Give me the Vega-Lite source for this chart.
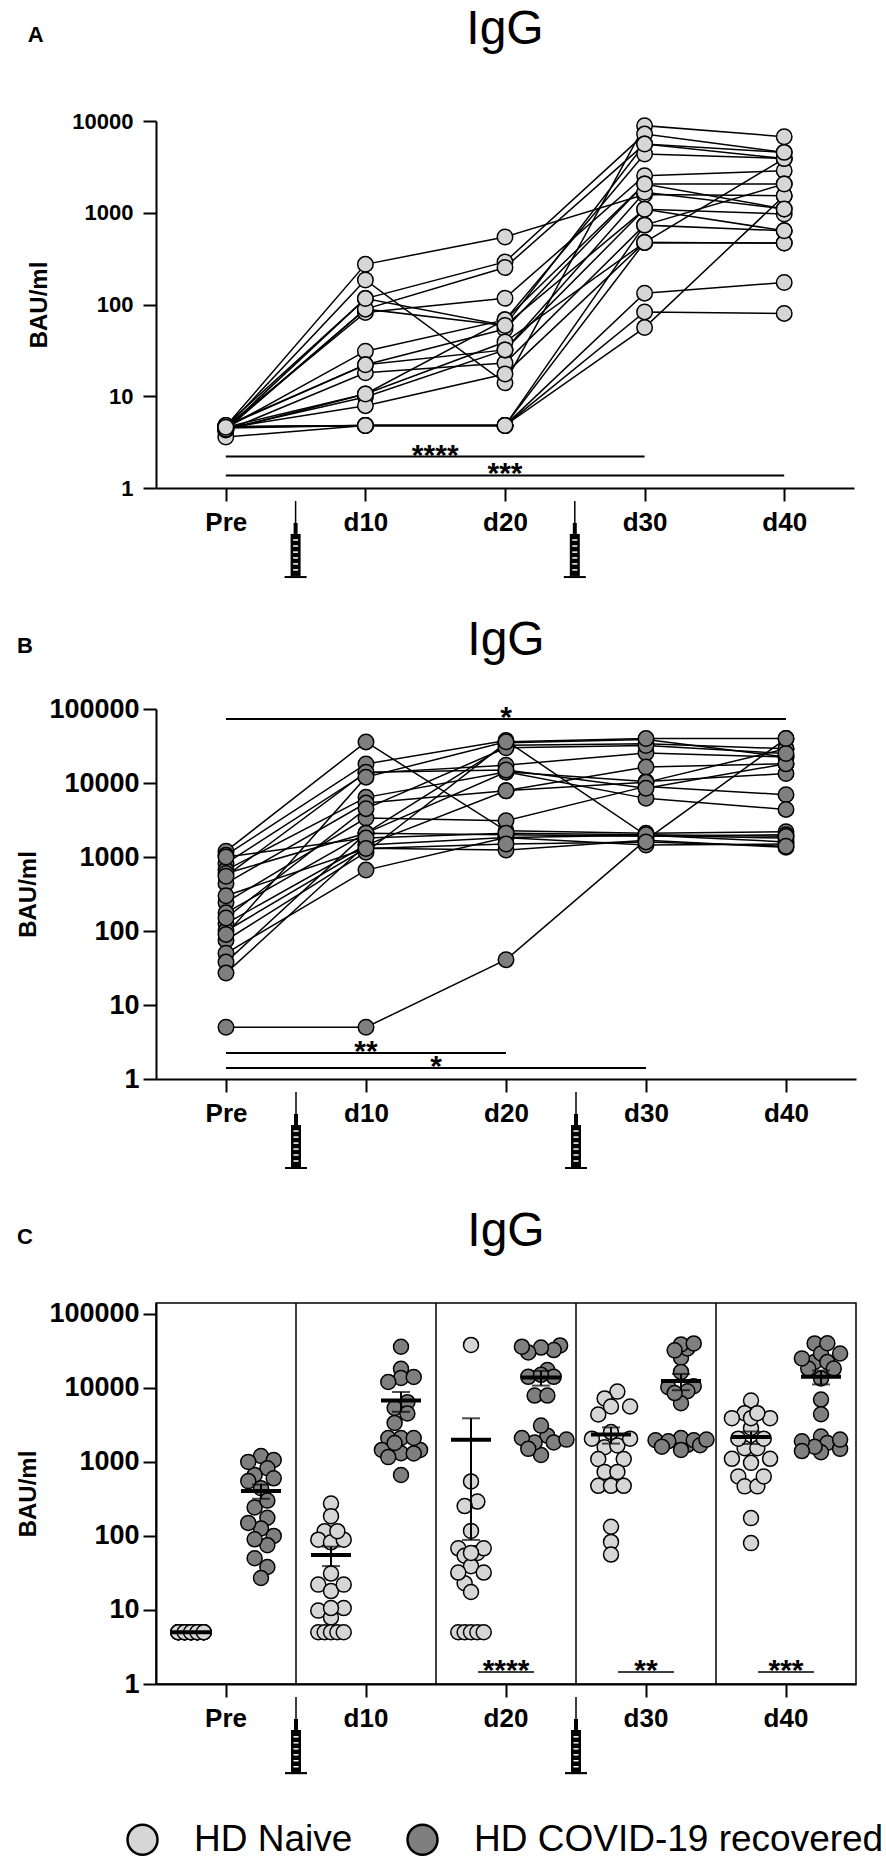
{
  "$schema": "https://vega.github.io/schema/vega-lite/v6.json",
  "background": "white",
  "padding": {"left": 16, "top": 6, "right": 5, "bottom": 5},
  "spacing": 35,
  "config": {
    "view": {"stroke": null},
    "font": "Liberation Sans",
    "axis": {"grid": false, "domainColor": "black", "domainWidth": 2, "tickColor": "black", "tickWidth": 2, "tickSize": 13, "labelColor": "black", "labelFont": "Liberation Sans", "labelFontWeight": "bold", "labelFontSize": 26, "labelPadding": 4, "titleColor": "black", "titleFont": "Liberation Sans", "titleFontSize": 24, "titleFontWeight": "bold"},
    "axisX": {"labelPadding": 8, "labelAngle": 0},
    "axisY": {"labelFontSize": 27},
    "title": {"fontSize": 22, "fontWeight": "bold", "anchor": "start", "frame": "bounds", "color": "black", "font": "Liberation Sans", "baseline": "alphabetic", "offset": -41},
    "text": {"font": "Liberation Sans", "color": "black"}
  },
  "datasets": {
    "naive": [
      {"id":1,"t":0,"v":4.7},{"id":1,"t":1,"v":274},{"id":1,"t":2,"v":545},{"id":1,"t":3,"v":1580},{"id":1,"t":4,"v":1530},
      {"id":2,"t":0,"v":4.5},{"id":2,"t":1,"v":185},{"id":2,"t":2,"v":14},{"id":2,"t":3,"v":8900},{"id":2,"t":4,"v":6740},
      {"id":3,"t":0,"v":4.8},{"id":3,"t":1,"v":116},{"id":3,"t":2,"v":291},{"id":3,"t":3,"v":7200},{"id":3,"t":4,"v":4550},
      {"id":4,"t":0,"v":4.4},{"id":4,"t":1,"v":89},{"id":4,"t":2,"v":253},{"id":4,"t":3,"v":5600},{"id":4,"t":4,"v":3900},
      {"id":5,"t":0,"v":4.6},{"id":5,"t":1,"v":82},{"id":5,"t":2,"v":117},{"id":5,"t":3,"v":2530},{"id":5,"t":4,"v":2870},
      {"id":6,"t":0,"v":4.3},{"id":6,"t":1,"v":89},{"id":6,"t":2,"v":59},{"id":6,"t":3,"v":1090},{"id":6,"t":4,"v":970},
      {"id":7,"t":0,"v":4.5},{"id":7,"t":1,"v":31},{"id":7,"t":2,"v":68},{"id":7,"t":3,"v":4370},{"id":7,"t":4,"v":3900},
      {"id":8,"t":0,"v":4.7},{"id":8,"t":1,"v":22},{"id":8,"t":2,"v":54},{"id":8,"t":3,"v":2060},{"id":8,"t":4,"v":2060},
      {"id":9,"t":0,"v":4.2},{"id":9,"t":1,"v":18},{"id":9,"t":2,"v":23},{"id":9,"t":3,"v":733},{"id":9,"t":4,"v":637},
      {"id":10,"t":0,"v":4.6},{"id":10,"t":1,"v":10.6},{"id":10,"t":2,"v":39},{"id":10,"t":3,"v":475},{"id":10,"t":4,"v":467},
      {"id":11,"t":0,"v":4.4},{"id":11,"t":1,"v":9.8},{"id":11,"t":2,"v":32},{"id":11,"t":3,"v":1670},{"id":11,"t":4,"v":1100},
      {"id":12,"t":0,"v":4.5},{"id":12,"t":1,"v":7.9},{"id":12,"t":2,"v":17.5},{"id":12,"t":3,"v":475},{"id":12,"t":4,"v":3900},
      {"id":13,"t":0,"v":3.6},{"id":13,"t":1,"v":4.8},{"id":13,"t":2,"v":4.8},{"id":13,"t":3,"v":133},{"id":13,"t":4,"v":174},
      {"id":14,"t":0,"v":4.6},{"id":14,"t":1,"v":4.8},{"id":14,"t":2,"v":4.8},{"id":14,"t":3,"v":83},{"id":14,"t":4,"v":80},
      {"id":15,"t":0,"v":4.7},{"id":15,"t":1,"v":4.8},{"id":15,"t":2,"v":4.8},{"id":15,"t":3,"v":56},{"id":15,"t":4,"v":1530},
      {"id":16,"t":0,"v":4.5},{"id":16,"t":1,"v":4.8},{"id":16,"t":2,"v":4.8},{"id":16,"t":3,"v":475},{"id":16,"t":4,"v":467},
      {"id":17,"t":0,"v":4.3},{"id":17,"t":1,"v":10.6},{"id":17,"t":2,"v":68},{"id":17,"t":3,"v":2060},{"id":17,"t":4,"v":1100},
      {"id":18,"t":0,"v":4.8},{"id":18,"t":1,"v":22},{"id":18,"t":2,"v":32},{"id":18,"t":3,"v":1090},{"id":18,"t":4,"v":637},
      {"id":19,"t":0,"v":4.4},{"id":19,"t":1,"v":116},{"id":19,"t":2,"v":59},{"id":19,"t":3,"v":5600},{"id":19,"t":4,"v":4550},
      {"id":20,"t":0,"v":4.6},{"id":20,"t":1,"v":4.8},{"id":20,"t":2,"v":4.8},{"id":20,"t":3,"v":733},{"id":20,"t":4,"v":2060}
    ],
    "rec": [
      {"id":1,"t":0,"v":5},{"id":1,"t":1,"v":5},{"id":1,"t":2,"v":41},{"id":1,"t":3,"v":1700},{"id":1,"t":4,"v":39800},
      {"id":2,"t":0,"v":1200},{"id":2,"t":1,"v":35900},{"id":2,"t":2,"v":2260},{"id":2,"t":3,"v":2100},{"id":2,"t":4,"v":2200},
      {"id":3,"t":0,"v":1060},{"id":3,"t":1,"v":18100},{"id":3,"t":2,"v":37400},{"id":3,"t":3,"v":1960},{"id":3,"t":4,"v":1800},
      {"id":4,"t":0,"v":820},{"id":4,"t":1,"v":13600},{"id":4,"t":2,"v":17400},{"id":4,"t":3,"v":25500},{"id":4,"t":4,"v":22400},
      {"id":5,"t":0,"v":665},{"id":5,"t":1,"v":6400},{"id":5,"t":2,"v":14100},{"id":5,"t":3,"v":10500},{"id":5,"t":4,"v":13400},
      {"id":6,"t":0,"v":440},{"id":6,"t":1,"v":5350},{"id":6,"t":2,"v":7870},{"id":6,"t":3,"v":16400},{"id":6,"t":4,"v":18200},
      {"id":7,"t":0,"v":243},{"id":7,"t":1,"v":3360},{"id":7,"t":2,"v":3090},{"id":7,"t":3,"v":9000},{"id":7,"t":4,"v":6950},
      {"id":8,"t":0,"v":176},{"id":8,"t":1,"v":2100},{"id":8,"t":2,"v":32400},{"id":8,"t":3,"v":34000},{"id":8,"t":4,"v":29100},
      {"id":9,"t":0,"v":126},{"id":9,"t":1,"v":1450},{"id":9,"t":2,"v":1830},{"id":9,"t":3,"v":1450},{"id":9,"t":4,"v":1500},
      {"id":10,"t":0,"v":100},{"id":10,"t":1,"v":1310},{"id":10,"t":2,"v":1240},{"id":10,"t":3,"v":1680},{"id":10,"t":4,"v":1350},
      {"id":11,"t":0,"v":75},{"id":11,"t":1,"v":1160},{"id":11,"t":2,"v":35000},{"id":11,"t":3,"v":38600},{"id":11,"t":4,"v":22400},
      {"id":12,"t":0,"v":50},{"id":12,"t":1,"v":665},{"id":12,"t":2,"v":1830},{"id":12,"t":3,"v":1960},{"id":12,"t":4,"v":1600},
      {"id":13,"t":0,"v":38},{"id":13,"t":1,"v":2100},{"id":13,"t":2,"v":14100},{"id":13,"t":3,"v":6200},{"id":13,"t":4,"v":4400},
      {"id":14,"t":0,"v":27},{"id":14,"t":1,"v":1450},{"id":14,"t":2,"v":7870},{"id":14,"t":3,"v":10200},{"id":14,"t":4,"v":29100},
      {"id":15,"t":0,"v":600},{"id":15,"t":1,"v":2100},{"id":15,"t":2,"v":2000},{"id":15,"t":3,"v":1900},{"id":15,"t":4,"v":2000},
      {"id":16,"t":0,"v":550},{"id":16,"t":1,"v":14000},{"id":16,"t":2,"v":15000},{"id":16,"t":3,"v":8500},{"id":16,"t":4,"v":18200},
      {"id":17,"t":0,"v":1000},{"id":17,"t":1,"v":1800},{"id":17,"t":2,"v":2100},{"id":17,"t":3,"v":2000},{"id":17,"t":4,"v":1900},
      {"id":18,"t":0,"v":150},{"id":18,"t":1,"v":4500},{"id":18,"t":2,"v":30000},{"id":18,"t":3,"v":32100},{"id":18,"t":4,"v":25000},
      {"id":19,"t":0,"v":300},{"id":19,"t":1,"v":1300},{"id":19,"t":2,"v":1500},{"id":19,"t":3,"v":1600},{"id":19,"t":4,"v":1400},
      {"id":20,"t":0,"v":90},{"id":20,"t":1,"v":12000},{"id":20,"t":2,"v":36000},{"id":20,"t":3,"v":39800},{"id":20,"t":4,"v":40000}
    ],
    "cdots": [
      {"g":"N","t":0,"v":5,"k":"N-2"},{"g":"N","t":0,"v":5,"k":"N-1"},{"g":"N","t":0,"v":5,"k":"N0"},{"g":"N","t":0,"v":5,"k":"N1"},{"g":"N","t":0,"v":5,"k":"N2"},
      {"g":"N","t":0,"v":5,"k":"N-2"},{"g":"N","t":0,"v":5,"k":"N-1"},{"g":"N","t":0,"v":5,"k":"N0"},{"g":"N","t":0,"v":5,"k":"N1"},{"g":"N","t":0,"v":5,"k":"N2"},
      {"g":"N","t":0,"v":5,"k":"N-2"},{"g":"N","t":0,"v":5,"k":"N-1"},{"g":"N","t":0,"v":5,"k":"N0"},{"g":"N","t":0,"v":5,"k":"N1"},{"g":"N","t":0,"v":5,"k":"N2"},
      {"g":"N","t":0,"v":5,"k":"N-2"},{"g":"N","t":0,"v":5,"k":"N-1"},{"g":"N","t":0,"v":5,"k":"N0"},{"g":"N","t":0,"v":5,"k":"N1"},{"g":"N","t":0,"v":5,"k":"N2"},
      {"g":"N","t":1,"v":274,"k":"N0"},{"g":"N","t":1,"v":185,"k":"N0"},{"g":"N","t":1,"v":116,"k":"N-1"},{"g":"N","t":1,"v":89,"k":"N-2"},{"g":"N","t":1,"v":82,"k":"N0"},
      {"g":"N","t":1,"v":89,"k":"N2"},{"g":"N","t":1,"v":31,"k":"N0"},{"g":"N","t":1,"v":22,"k":"N-2"},{"g":"N","t":1,"v":18,"k":"N0"},{"g":"N","t":1,"v":10.6,"k":"N2"},
      {"g":"N","t":1,"v":9.8,"k":"N-2"},{"g":"N","t":1,"v":7.9,"k":"N0"},{"g":"N","t":1,"v":5,"k":"N-2"},{"g":"N","t":1,"v":5,"k":"N-1"},{"g":"N","t":1,"v":5,"k":"N0"},
      {"g":"N","t":1,"v":5,"k":"N1"},{"g":"N","t":1,"v":10.6,"k":"N0"},{"g":"N","t":1,"v":22,"k":"N2"},{"g":"N","t":1,"v":116,"k":"N1"},{"g":"N","t":1,"v":5,"k":"N2"},
      {"g":"N","t":2,"v":545,"k":"N0"},{"g":"N","t":2,"v":38000,"k":"N0"},{"g":"N","t":2,"v":291,"k":"N1"},{"g":"N","t":2,"v":253,"k":"N-1"},{"g":"N","t":2,"v":117,"k":"N0"},
      {"g":"N","t":2,"v":59,"k":"N1"},{"g":"N","t":2,"v":68,"k":"N-2"},{"g":"N","t":2,"v":54,"k":"N-1"},{"g":"N","t":2,"v":23,"k":"N-1"},{"g":"N","t":2,"v":39,"k":"N0"},
      {"g":"N","t":2,"v":32,"k":"N-2"},{"g":"N","t":2,"v":17.5,"k":"N0"},{"g":"N","t":2,"v":5,"k":"N-2"},{"g":"N","t":2,"v":5,"k":"N-1"},{"g":"N","t":2,"v":5,"k":"N0"},
      {"g":"N","t":2,"v":5,"k":"N1"},{"g":"N","t":2,"v":68,"k":"N2"},{"g":"N","t":2,"v":32,"k":"N2"},{"g":"N","t":2,"v":59,"k":"N0"},{"g":"N","t":2,"v":5,"k":"N2"},
      {"g":"N","t":3,"v":1580,"k":"N-1"},{"g":"N","t":3,"v":8900,"k":"N1"},{"g":"N","t":3,"v":7200,"k":"N-1"},{"g":"N","t":3,"v":5600,"k":"N0"},{"g":"N","t":3,"v":2530,"k":"N0"},
      {"g":"N","t":3,"v":1090,"k":"N-2"},{"g":"N","t":3,"v":4370,"k":"N-2"},{"g":"N","t":3,"v":2060,"k":"N-3"},{"g":"N","t":3,"v":733,"k":"N-1"},{"g":"N","t":3,"v":475,"k":"N-2"},
      {"g":"N","t":3,"v":1670,"k":"N1"},{"g":"N","t":3,"v":475,"k":"N0"},{"g":"N","t":3,"v":133,"k":"N0"},{"g":"N","t":3,"v":83,"k":"N0"},{"g":"N","t":3,"v":56,"k":"N0"},
      {"g":"N","t":3,"v":475,"k":"N2"},{"g":"N","t":3,"v":2060,"k":"N3"},{"g":"N","t":3,"v":1090,"k":"N2"},{"g":"N","t":3,"v":5600,"k":"N3"},{"g":"N","t":3,"v":733,"k":"N1"},
      {"g":"N","t":4,"v":1530,"k":"N-1"},{"g":"N","t":4,"v":6740,"k":"N0"},{"g":"N","t":4,"v":4550,"k":"N-1"},{"g":"N","t":4,"v":3900,"k":"N-3"},{"g":"N","t":4,"v":2870,"k":"N0"},
      {"g":"N","t":4,"v":970,"k":"N0"},{"g":"N","t":4,"v":3900,"k":"N0"},{"g":"N","t":4,"v":2060,"k":"N-2"},{"g":"N","t":4,"v":637,"k":"N-2"},{"g":"N","t":4,"v":467,"k":"N-1"},
      {"g":"N","t":4,"v":1100,"k":"N-3"},{"g":"N","t":4,"v":3900,"k":"N3"},{"g":"N","t":4,"v":174,"k":"N0"},{"g":"N","t":4,"v":80,"k":"N0"},{"g":"N","t":4,"v":1530,"k":"N1"},
      {"g":"N","t":4,"v":467,"k":"N1"},{"g":"N","t":4,"v":1100,"k":"N3"},{"g":"N","t":4,"v":637,"k":"N2"},{"g":"N","t":4,"v":4550,"k":"N1"},{"g":"N","t":4,"v":2060,"k":"N2"},
      {"g":"R","t":0,"v":1200,"k":"R0"},{"g":"R","t":0,"v":1060,"k":"R2"},{"g":"R","t":0,"v":820,"k":"R1"},{"g":"R","t":0,"v":665,"k":"R-1"},{"g":"R","t":0,"v":440,"k":"R0"},
      {"g":"R","t":0,"v":243,"k":"R-1"},{"g":"R","t":0,"v":176,"k":"R1"},{"g":"R","t":0,"v":126,"k":"R0"},{"g":"R","t":0,"v":100,"k":"R2"},{"g":"R","t":0,"v":75,"k":"R1"},
      {"g":"R","t":0,"v":50,"k":"R-1"},{"g":"R","t":0,"v":38,"k":"R1"},{"g":"R","t":0,"v":27,"k":"R0"},{"g":"R","t":0,"v":600,"k":"R2"},{"g":"R","t":0,"v":550,"k":"R-2"},
      {"g":"R","t":0,"v":1000,"k":"R-2"},{"g":"R","t":0,"v":150,"k":"R-2"},{"g":"R","t":0,"v":300,"k":"R1"},{"g":"R","t":0,"v":90,"k":"R-1"},
      {"g":"R","t":1,"v":35900,"k":"R0"},{"g":"R","t":1,"v":18100,"k":"R0"},{"g":"R","t":1,"v":13600,"k":"R0"},{"g":"R","t":1,"v":6400,"k":"R1"},{"g":"R","t":1,"v":5350,"k":"R-1"},
      {"g":"R","t":1,"v":3360,"k":"R-1"},{"g":"R","t":1,"v":2100,"k":"R-2"},{"g":"R","t":1,"v":1450,"k":"R-3"},{"g":"R","t":1,"v":1310,"k":"R0"},{"g":"R","t":1,"v":1160,"k":"R-2"},
      {"g":"R","t":1,"v":665,"k":"R0"},{"g":"R","t":1,"v":2100,"k":"R0"},{"g":"R","t":1,"v":1450,"k":"R3"},{"g":"R","t":1,"v":2100,"k":"R2"},{"g":"R","t":1,"v":14000,"k":"R2"},
      {"g":"R","t":1,"v":1800,"k":"R-1"},{"g":"R","t":1,"v":4500,"k":"R1"},{"g":"R","t":1,"v":1300,"k":"R2"},{"g":"R","t":1,"v":12000,"k":"R-2"},
      {"g":"R","t":2,"v":2260,"k":"R1"},{"g":"R","t":2,"v":37400,"k":"R3"},{"g":"R","t":2,"v":17400,"k":"R1"},{"g":"R","t":2,"v":14100,"k":"R-2"},{"g":"R","t":2,"v":7870,"k":"R-1"},
      {"g":"R","t":2,"v":3090,"k":"R0"},{"g":"R","t":2,"v":32400,"k":"R2"},{"g":"R","t":2,"v":1830,"k":"R2"},{"g":"R","t":2,"v":1240,"k":"R0"},{"g":"R","t":2,"v":35000,"k":"R0"},
      {"g":"R","t":2,"v":1830,"k":"R-1"},{"g":"R","t":2,"v":14100,"k":"R2"},{"g":"R","t":2,"v":7870,"k":"R1"},{"g":"R","t":2,"v":2000,"k":"R4"},{"g":"R","t":2,"v":15000,"k":"R0"},
      {"g":"R","t":2,"v":2100,"k":"R-3"},{"g":"R","t":2,"v":30000,"k":"R-2"},{"g":"R","t":2,"v":1500,"k":"R-2"},{"g":"R","t":2,"v":36000,"k":"R-3"},
      {"g":"R","t":3,"v":1700,"k":"R1"},{"g":"R","t":3,"v":2100,"k":"R0"},{"g":"R","t":3,"v":1960,"k":"R2"},{"g":"R","t":3,"v":25500,"k":"R0"},{"g":"R","t":3,"v":10500,"k":"R2"},
      {"g":"R","t":3,"v":16400,"k":"R0"},{"g":"R","t":3,"v":9000,"k":"R1"},{"g":"R","t":3,"v":34000,"k":"R1"},{"g":"R","t":3,"v":1450,"k":"R0"},{"g":"R","t":3,"v":1680,"k":"R3"},
      {"g":"R","t":3,"v":38600,"k":"R0"},{"g":"R","t":3,"v":1960,"k":"R-4"},{"g":"R","t":3,"v":6200,"k":"R0"},{"g":"R","t":3,"v":10200,"k":"R-2"},{"g":"R","t":3,"v":1900,"k":"R-2"},
      {"g":"R","t":3,"v":8500,"k":"R-1"},{"g":"R","t":3,"v":2000,"k":"R4"},{"g":"R","t":3,"v":32100,"k":"R-1"},{"g":"R","t":3,"v":1600,"k":"R-3"},{"g":"R","t":3,"v":39800,"k":"R2"},
      {"g":"R","t":4,"v":39800,"k":"R-1"},{"g":"R","t":4,"v":2200,"k":"R0"},{"g":"R","t":4,"v":1800,"k":"R1"},{"g":"R","t":4,"v":22400,"k":"R-1"},{"g":"R","t":4,"v":13400,"k":"R0"},
      {"g":"R","t":4,"v":18200,"k":"R-2"},{"g":"R","t":4,"v":6950,"k":"R0"},{"g":"R","t":4,"v":29100,"k":"R0"},{"g":"R","t":4,"v":1500,"k":"R3"},{"g":"R","t":4,"v":1350,"k":"R0"},
      {"g":"R","t":4,"v":22400,"k":"R1"},{"g":"R","t":4,"v":1600,"k":"R-1"},{"g":"R","t":4,"v":4400,"k":"R0"},{"g":"R","t":4,"v":29100,"k":"R3"},{"g":"R","t":4,"v":2000,"k":"R3"},
      {"g":"R","t":4,"v":18200,"k":"R2"},{"g":"R","t":4,"v":1900,"k":"R-3"},{"g":"R","t":4,"v":25000,"k":"R-3"},{"g":"R","t":4,"v":1400,"k":"R-3"},{"g":"R","t":4,"v":40000,"k":"R1"}
    ],
    "syrAB": [{"t":0.5},{"t":2.5}],
    "syrC": [{"t":1},{"t":3}],
    "dashA": [
      {"t":0.5,"y":0.271},{"t":0.5,"y":0.233},{"t":0.5,"y":0.2},{"t":0.5,"y":0.173},{"t":0.5,"y":0.149},{"t":0.5,"y":0.128},
      {"t":2.5,"y":0.271},{"t":2.5,"y":0.233},{"t":2.5,"y":0.2},{"t":2.5,"y":0.173},{"t":2.5,"y":0.149},{"t":2.5,"y":0.128}
    ],
    "dashB": [
      {"t":0.5,"y":0.198},{"t":0.5,"y":0.164},{"t":0.5,"y":0.136},{"t":0.5,"y":0.113},{"t":0.5,"y":0.094},{"t":0.5,"y":0.078},
      {"t":2.5,"y":0.198},{"t":2.5,"y":0.164},{"t":2.5,"y":0.136},{"t":2.5,"y":0.113},{"t":2.5,"y":0.094},{"t":2.5,"y":0.078}
    ],
    "dashC": [
      {"t":1,"y":0.198,"y2":0.189},{"t":1,"y":0.164,"y2":0.157},{"t":1,"y":0.136,"y2":0.130},{"t":1,"y":0.113,"y2":0.108},{"t":1,"y":0.094,"y2":0.090},{"t":1,"y":0.078,"y2":0.0745},
      {"t":3,"y":0.198,"y2":0.189},{"t":3,"y":0.164,"y2":0.157},{"t":3,"y":0.136,"y2":0.130},{"t":3,"y":0.113,"y2":0.108},{"t":3,"y":0.094,"y2":0.090},{"t":3,"y":0.078,"y2":0.0745}
    ]
  },
  "vconcat": [
    {
      "width": 698,
      "height": 367,
      "title": {"text": "A"},
      "layer": [
        {
          "data": {"name": "naive"},
          "mark": {"type": "line", "color": "black", "strokeWidth": 1.5},
          "encoding": {
            "x": {"field": "t", "type": "quantitative", "scale": {"domain": [-0.5, 4.5], "nice": false, "zero": false},
                  "axis": {"values": [0, 1, 2, 3, 4], "labelExpr": "['Pre','d10','d20','d30','d40'][datum.value]", "title": null}},
            "y": {"field": "v", "type": "quantitative", "scale": {"type": "log", "domain": [1, 10000], "nice": false},
                  "axis": {"values": [1, 10, 100, 1000, 10000], "format": "d", "title": "BAU/ml", "titlePadding": 20, "labelFontSize": 22, "labelPadding": 10}},
            "detail": {"field": "id", "type": "nominal"}
          }
        },
        {
          "data": {"name": "naive"},
          "mark": {"type": "circle", "size": 240, "fill": "#d6d6d6", "stroke": "black", "strokeWidth": 1.5, "opacity": 1},
          "encoding": {"x": {"field": "t", "type": "quantitative"}, "y": {"field": "v", "type": "quantitative"}}
        },
        {
          "data": {"values": [{"a": 0, "b": 3, "v": 2.2}, {"a": 0, "b": 4, "v": 1.37}]},
          "mark": {"type": "rule", "color": "black", "strokeWidth": 2},
          "encoding": {"x": {"field": "a", "type": "quantitative"}, "x2": {"field": "b"}, "y": {"field": "v", "type": "quantitative"}}
        },
        {
          "data": {"values": [{"m": 1.5, "v": 1.8, "s": "****"}, {"m": 2, "v": 1.12, "s": "***"}]},
          "mark": {"type": "text", "fontSize": 30, "fontWeight": "bold", "baseline": "alphabetic"},
          "encoding": {"x": {"field": "m", "type": "quantitative"}, "y": {"field": "v", "type": "quantitative"}, "text": {"field": "s"}}
        },
        {
          "data": {"values": [{"s": "IgG"}]},
          "mark": {"type": "text", "fontSize": 48, "baseline": "alphabetic"},
          "encoding": {"x": {"datum": 2}, "y": {"datum": 69000}, "text": {"field": "s"}}
        },
        {
          "data": {"name": "syrAB"},
          "mark": {"type": "rule", "color": "black", "strokeWidth": 1.5},
          "encoding": {"x": {"field": "t", "type": "quantitative"}, "y": {"datum": 0.721}, "y2": {"datum": 0.416}}
        },
        {
          "data": {"name": "syrAB"},
          "mark": {"type": "rule", "color": "black", "strokeWidth": 4},
          "encoding": {"x": {"field": "t", "type": "quantitative"}, "y": {"datum": 0.416}, "y2": {"datum": 0.316}}
        },
        {
          "data": {"name": "syrAB"},
          "mark": {"type": "rule", "color": "black", "strokeWidth": 10},
          "encoding": {"x": {"field": "t", "type": "quantitative"}, "y": {"datum": 0.316}, "y2": {"datum": 0.11}}
        },
        {
          "data": {"name": "syrAB"},
          "mark": {"type": "tick", "orient": "horizontal", "color": "black", "size": 22, "thickness": 2, "opacity": 1},
          "encoding": {"x": {"field": "t", "type": "quantitative"}, "y": {"datum": 0.107}}
        },
        {
          "data": {"name": "dashA"},
          "mark": {"type": "tick", "orient": "horizontal", "color": "white", "size": 5, "thickness": 1.5, "opacity": 1},
          "encoding": {"x": {"field": "t", "type": "quantitative"}, "y": {"field": "y", "type": "quantitative"}}
        }
      ]
    },
    {
      "width": 700,
      "height": 370,
      "title": {"text": "B"},
      "layer": [
        {
          "data": {"name": "rec"},
          "mark": {"type": "line", "color": "black", "strokeWidth": 1.5},
          "encoding": {
            "x": {"field": "t", "type": "quantitative", "scale": {"domain": [-0.5, 4.5], "nice": false, "zero": false},
                  "axis": {"values": [0, 1, 2, 3, 4], "labelExpr": "['Pre','d10','d20','d30','d40'][datum.value]", "title": null}},
            "y": {"field": "v", "type": "quantitative", "scale": {"type": "log", "domain": [1, 100000], "nice": false},
                  "axis": {"values": [1, 10, 100, 1000, 10000, 100000], "format": "d", "title": "BAU/ml", "titlePadding": 8}},
            "detail": {"field": "id", "type": "nominal"}
          }
        },
        {
          "data": {"name": "rec"},
          "mark": {"type": "circle", "size": 240, "fill": "#7f7f7f", "stroke": "black", "strokeWidth": 1.5, "opacity": 1},
          "encoding": {"x": {"field": "t", "type": "quantitative"}, "y": {"field": "v", "type": "quantitative"}}
        },
        {
          "data": {"values": [{"a": 0, "b": 4, "v": 73000}, {"a": 0, "b": 2, "v": 2.25}, {"a": 0, "b": 3, "v": 1.41}]},
          "mark": {"type": "rule", "color": "black", "strokeWidth": 2},
          "encoding": {"x": {"field": "a", "type": "quantitative"}, "x2": {"field": "b"}, "y": {"field": "v", "type": "quantitative"}}
        },
        {
          "data": {"values": [{"m": 2, "v": 56900, "s": "*"}, {"m": 1, "v": 1.75, "s": "**"}, {"m": 1.5, "v": 1.1, "s": "*"}]},
          "mark": {"type": "text", "fontSize": 30, "fontWeight": "bold", "baseline": "alphabetic"},
          "encoding": {"x": {"field": "m", "type": "quantitative"}, "y": {"field": "v", "type": "quantitative"}, "text": {"field": "s"}}
        },
        {
          "data": {"values": [{"s": "IgG"}]},
          "mark": {"type": "text", "fontSize": 48, "baseline": "alphabetic"},
          "encoding": {"x": {"datum": 2}, "y": {"datum": 537000}, "text": {"field": "s"}}
        },
        {
          "data": {"name": "syrAB"},
          "mark": {"type": "rule", "color": "black", "strokeWidth": 1.5},
          "encoding": {"x": {"field": "t", "type": "quantitative"}, "y": {"datum": 0.667}, "y2": {"datum": 0.337}}
        },
        {
          "data": {"name": "syrAB"},
          "mark": {"type": "rule", "color": "black", "strokeWidth": 4},
          "encoding": {"x": {"field": "t", "type": "quantitative"}, "y": {"datum": 0.337}, "y2": {"datum": 0.239}}
        },
        {
          "data": {"name": "syrAB"},
          "mark": {"type": "rule", "color": "black", "strokeWidth": 10},
          "encoding": {"x": {"field": "t", "type": "quantitative"}, "y": {"datum": 0.239}, "y2": {"datum": 0.0647}}
        },
        {
          "data": {"name": "syrAB"},
          "mark": {"type": "tick", "orient": "horizontal", "color": "black", "size": 22, "thickness": 2, "opacity": 1},
          "encoding": {"x": {"field": "t", "type": "quantitative"}, "y": {"datum": 0.0627}}
        },
        {
          "data": {"name": "dashB"},
          "mark": {"type": "tick", "orient": "horizontal", "color": "white", "size": 5, "thickness": 1.5, "opacity": 1},
          "encoding": {"x": {"field": "t", "type": "quantitative"}, "y": {"field": "y", "type": "quantitative"}}
        }
      ]
    },
    {
      "width": 700,
      "height": 381,
      "view": {"stroke": "black", "strokeWidth": 1.5},
      "title": {"text": "C"},
      "layer": [
        {
          "data": {"values": [{"t": 1}, {"t": 2}, {"t": 3}, {"t": 4}]},
          "mark": {"type": "rule", "color": "black", "strokeWidth": 1.5},
          "encoding": {
            "x": {"field": "t", "type": "ordinal", "bandPosition": 0, "scale": {"paddingInner": 0, "paddingOuter": 0},
                  "axis": {"labelExpr": "['Pre','d10','d20','d30','d40'][datum.value]", "title": null, "labelAngle": 0}}
          }
        },
        {
          "data": {"name": "cdots"},
          "mark": {"type": "circle", "size": 225, "stroke": "black", "strokeWidth": 1.5, "opacity": 1},
          "encoding": {
            "x": {"field": "t", "type": "ordinal"},
            "xOffset": {"field": "k", "type": "nominal", "scale": {"domain": ["N-5","N-4","N-3","N-2","N-1","N0","N1","N2","N3","N4","N5","R-5","R-4","R-3","R-2","R-1","R0","R1","R2","R3","R4","R5"]}},
            "y": {"field": "v", "type": "quantitative", "title": "BAU/ml", "scale": {"type": "log", "domain": [1, 140000], "nice": false},
                  "axis": {"values": [1, 10, 100, 1000, 10000, 100000], "format": "d", "title": "BAU/ml", "titlePadding": 8}},
            "fill": {"field": "g", "type": "nominal", "scale": {"domain": ["N", "R"], "range": ["#d6d6d6", "#7f7f7f"]},
                     "legend": {"title": null, "orient": "none", "legendX": -32, "legendY": 1700, "direction": "horizontal",
                                "symbolType": "circle", "symbolSize": 900, "symbolStrokeColor": "black", "symbolStrokeWidth": 2.5,
                                "labelFontSize": 37, "labelFont": "Liberation Sans", "labelColor": "black", "labelOffset": 33, "labelLimit": 600, "columnPadding": 49, "padding": 0,
                                "labelExpr": "datum.value == 'N' ? 'HD Naive' : 'HD COVID-19 recovered'",
                                "encode": {"symbols": {"update": {"fill": {"signal": "datum.value == 'N' ? '#d6d6d6' : '#474747'"}, "opacity": {"value": 1}}}}}}
          }
        },
        {
          "data": {"name": "cdots"},
          "transform": [{"filter": "datum.g == 'N'"}],
          "mark": {"type": "errorbar", "extent": "stderr", "ticks": {"size": 18}, "thickness": 2, "color": "black"},
          "encoding": {"x": {"field": "t", "type": "ordinal"}, "xOffset": {"datum": "N0"}, "y": {"field": "v", "type": "quantitative", "title": "BAU/ml"}}
        },
        {
          "data": {"name": "cdots"},
          "transform": [{"filter": "datum.g == 'R'"}],
          "mark": {"type": "errorbar", "extent": "stderr", "ticks": {"size": 18}, "thickness": 2, "color": "black"},
          "encoding": {"x": {"field": "t", "type": "ordinal"}, "xOffset": {"datum": "R0"}, "y": {"field": "v", "type": "quantitative", "title": "BAU/ml"}}
        },
        {
          "data": {"name": "cdots"},
          "transform": [{"filter": "datum.g == 'N'"}],
          "mark": {"type": "tick", "color": "black", "size": 40, "thickness": 4, "opacity": 1},
          "encoding": {"x": {"field": "t", "type": "ordinal"}, "xOffset": {"datum": "N0"}, "y": {"aggregate": "mean", "field": "v", "type": "quantitative", "title": "BAU/ml"}}
        },
        {
          "data": {"name": "cdots"},
          "transform": [{"filter": "datum.g == 'R'"}],
          "mark": {"type": "tick", "color": "black", "size": 40, "thickness": 4, "opacity": 1},
          "encoding": {"x": {"field": "t", "type": "ordinal"}, "xOffset": {"datum": "R0"}, "y": {"aggregate": "mean", "field": "v", "type": "quantitative", "title": "BAU/ml"}}
        },
        {
          "data": {"values": [{"t": 2, "s": "****"}, {"t": 3, "s": "**"}, {"t": 4, "s": "***"}]},
          "mark": {"type": "tick", "orient": "horizontal", "color": "black", "size": 56, "thickness": 1.5, "opacity": 1},
          "encoding": {"x": {"field": "t", "type": "ordinal"}, "y": {"datum": 1.45}}
        },
        {
          "data": {"values": [{"t": 2, "s": "****"}, {"t": 3, "s": "**"}, {"t": 4, "s": "***"}]},
          "mark": {"type": "text", "fontSize": 30, "fontWeight": "bold", "baseline": "alphabetic"},
          "encoding": {"x": {"field": "t", "type": "ordinal"}, "y": {"datum": 1.13}, "text": {"field": "s"}}
        },
        {
          "data": {"values": [{"s": "IgG"}]},
          "mark": {"type": "text", "fontSize": 48, "baseline": "alphabetic"},
          "encoding": {"x": {"datum": 2, "type": "ordinal"}, "y": {"datum": 824000}, "text": {"field": "s"}}
        },
        {
          "data": {"name": "syrC"},
          "mark": {"type": "rule", "color": "black", "strokeWidth": 1.5},
          "encoding": {"x": {"field": "t", "type": "ordinal", "bandPosition": 0}, "y": {"datum": 0.667}, "y2": {"datum": 0.337}}
        },
        {
          "data": {"name": "syrC"},
          "mark": {"type": "rule", "color": "black", "strokeWidth": 4},
          "encoding": {"x": {"field": "t", "type": "ordinal", "bandPosition": 0}, "y": {"datum": 0.337}, "y2": {"datum": 0.239}}
        },
        {
          "data": {"name": "syrC"},
          "mark": {"type": "rule", "color": "black", "strokeWidth": 10},
          "encoding": {"x": {"field": "t", "type": "ordinal", "bandPosition": 0}, "y": {"datum": 0.239}, "y2": {"datum": 0.0647}}
        },
        {
          "data": {"name": "syrC"},
          "mark": {"type": "rule", "color": "black", "strokeWidth": 22},
          "encoding": {"x": {"field": "t", "type": "ordinal", "bandPosition": 0}, "y": {"datum": 0.0647}, "y2": {"datum": 0.0605}}
        },
        {
          "data": {"name": "dashC"},
          "mark": {"type": "rule", "color": "white", "strokeWidth": 5},
          "encoding": {"x": {"field": "t", "type": "ordinal", "bandPosition": 0}, "y": {"field": "y", "type": "quantitative"}, "y2": {"field": "y2"}}
        }
      ]
    }
  ]
}
